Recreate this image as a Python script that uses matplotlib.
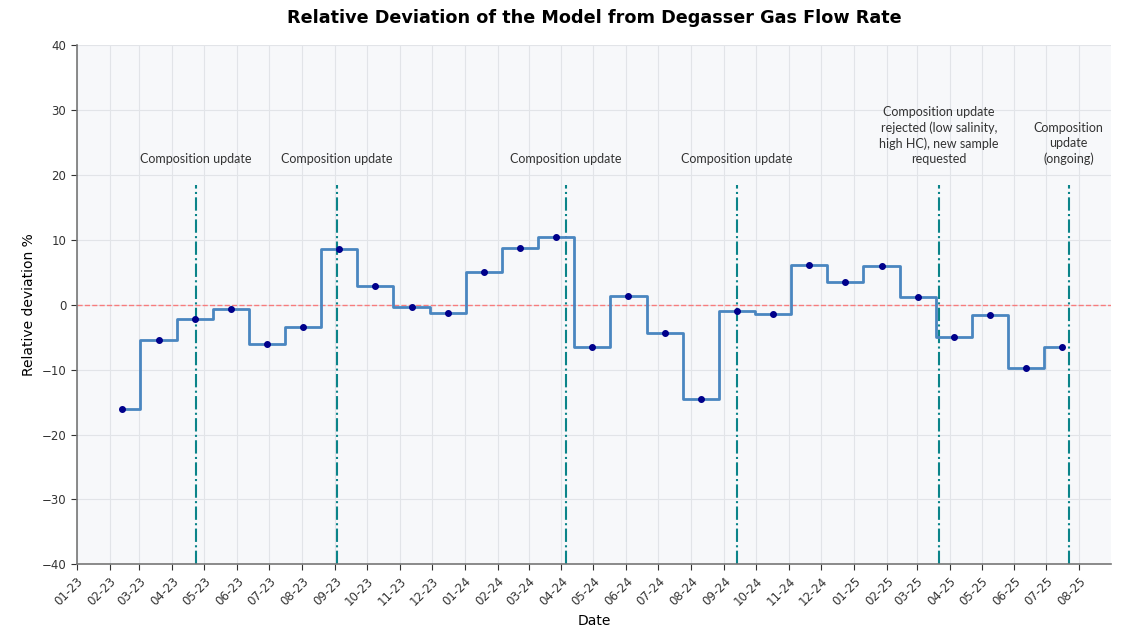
import matplotlib.pyplot as plt
import matplotlib.dates as mdates
import pandas as pd

# monthly relative deviation of model vs degasser gas flow rate (%)
dates = [
    "2023-02-13", "2023-03-19", "2023-04-22", "2023-05-26", "2023-06-29",
    "2023-08-02", "2023-09-05", "2023-10-09", "2023-11-12", "2023-12-16",
    "2024-01-19", "2024-02-22", "2024-03-27", "2024-04-30", "2024-06-03",
    "2024-07-07", "2024-08-10", "2024-09-13", "2024-10-17", "2024-11-20",
    "2024-12-24", "2025-01-27", "2025-03-02", "2025-04-05", "2025-05-09",
    "2025-06-12", "2025-07-16",
]
deviation = [
    -16.0, -5.4, -2.2, -0.7, -6.1,
    -3.5, 8.6, 2.9, -0.4, -1.3,
    5.1, 8.8, 10.5, -6.5, 1.4,
    -4.4, -14.6, -0.9, -1.4, 6.1,
    3.5, 6.0, 1.2, -4.9, -1.6,
    -9.7, -6.5,
]

event_dates = ["2023-04-23", "2023-09-03", "2024-04-05", "2024-09-13", "2025-03-22", "2025-07-22"]
event_labels = [
    "Composition update",
    "Composition update",
    "Composition update",
    "Composition update",
    "Composition update\nrejected (low salinity,\nhigh HC), new sample\nrequested",
    "Composition\nupdate\n(ongoing)",
]

x = pd.to_datetime(dates)
ev = pd.to_datetime(event_dates)

fig = plt.figure(figsize=(11.27, 6.27), dpi=100)
ax = fig.add_axes([0.068, 0.1, 0.918, 0.828])
ax.set_facecolor("#f7f8fa")

ax.step(x, deviation, where="mid", color="#4a86c0", lw=2, zorder=3)
ax.plot(x, deviation, "o", color="#00008b", ms=4, zorder=4)
ax.axhline(0, color="#ff5a5a", ls="--", lw=1, alpha=0.75, zorder=2)

for d, lab in zip(ev, event_labels):
    ax.axvline(d, ymax=0.73, color="#0b8489", ls="-.", lw=1.5, zorder=2)
    ax.text(d, 21.5, lab, ha="center", va="bottom", fontsize=9,
            color="#333333", family="Lato", linespacing=1.32)

ax.set_ylim(-40, 40)
ax.set_xlim(pd.Timestamp("2023-01-01"), pd.Timestamp("2025-08-31"))
ax.xaxis.set_major_locator(mdates.MonthLocator())
ax.xaxis.set_major_formatter(mdates.DateFormatter("%m-%y"))
plt.setp(ax.get_xticklabels(), rotation=45, ha="right", rotation_mode="anchor")

ax.grid(True, color="#e2e4e8", lw=0.8)
ax.set_axisbelow(True)
for s in ["top", "right"]:
    ax.spines[s].set_visible(False)
for s in ["left", "bottom"]:
    ax.spines[s].set_color("#777777")
    ax.spines[s].set_linewidth(1.2)
ax.tick_params(colors="#333333", labelsize=8.5, length=4)

ax.set_xlabel("Date", fontsize=10)
ax.set_ylabel("Relative deviation %", fontsize=10)
fig.suptitle("Relative Deviation of the Model from Degasser Gas Flow Rate",
             fontsize=12.7, fontweight="bold", x=0.527, y=0.985)

fig.savefig("out.png", dpi=100)
